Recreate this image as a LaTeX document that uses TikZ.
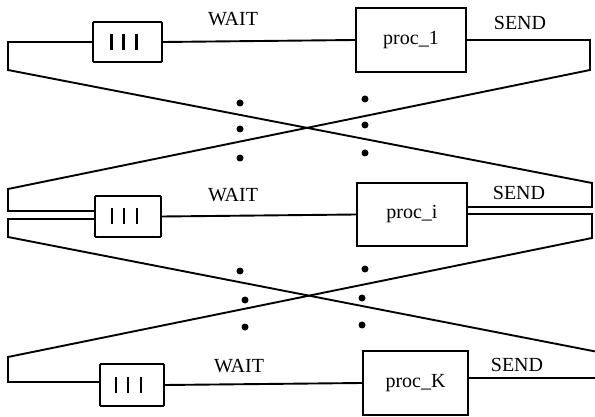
\documentclass[tikz,border=0pt]{standalone}
\usepackage{fontspec}
\setmainfont{Liberation Serif}
\begin{document}
\begin{tikzpicture}[x=1pt,y=-1pt, line width=1.9pt, line join=miter,
  qbox/.style={draw, inner sep=0pt, rounded corners=1pt},
  pbox/.style={draw, inner sep=0pt, font=\fontsize{20}{22}\selectfont},
  lbl/.style={anchor=base, inner sep=0pt, font=\fontsize{20}{22}\selectfont},
  dotmark/.style={circle, fill, inner sep=0pt, minimum size=7pt},
  bar/.style={line width=2.6pt}]
\useasboundingbox (0,0) rectangle (595,417);

% row 1
\node[qbox, minimum width=69pt, minimum height=40pt] (q1) at (127.5,42) {};
\node[pbox, minimum width=110pt, minimum height=64pt] (p1) at (411,40) {proc\_1};
\node[lbl] (w1) at (233,26) {WAIT};
\node[lbl] (s1) at (520,30) {SEND};
% row 2
\node[qbox, minimum width=66pt, minimum height=41pt] (q2) at (128,216.5) {};
\node[pbox, minimum width=110pt, minimum height=63pt] (p2) at (412,214.5) {proc\_i};
\node[lbl] (w2) at (233,202) {WAIT};
\node[lbl] (s2) at (519,200) {SEND};
% row 3
\node[qbox, minimum width=64pt, minimum height=42pt] (q3) at (132,385) {};
\node[pbox, minimum width=105pt, minimum height=64pt] (p3) at (415.5,383) {proc\_K};
\node[lbl] (w3) at (239,372) {WAIT};
\node[lbl] (s3) at (517,371) {SEND};

% queue bars
\foreach \q in {q1,q2,q3}{
  \foreach \dx in {-16,-4,9}{
    \draw[bar] ([xshift=\dx pt, yshift=-8pt]\q.center) -- ([xshift=\dx pt, yshift=8pt]\q.center);
  }
}

% corner coordinates
\coordinate (l1) at (8,70);
\coordinate (r1) at (590,70);
\coordinate (l2t) at (8,189);
\coordinate (l2b) at (8,237);
\coordinate (r2t) at (592,183);
\coordinate (r2b) at (592,238);
\coordinate (l3t) at (8,357);
\coordinate (r3t) at (598,352);
\path (q2.west) ++(0,-5.5) coordinate (q2u);
\path (q2.west) ++(0,2.5) coordinate (q2d);
\path (p2.east) ++(0,-7.5) coordinate (p2u);
\path (p2.east) ++(0,-0.5) coordinate (p2d);
\path (q3.west) ++(0,-3) coordinate (q3w);
\path (p3.east) ++(0,-5) coordinate (p3e);

% straight connectors
\draw (q1.east) -- (p1.west);
\draw (q2.east) -- (p2.west);
\draw (q3.east) -- (p3.west);

% loops
\draw (q1.west) -| (l1) -- (r2t) |- (p2u);
\draw (p1.east) -| (r1) -- (l2t) |- (q2u);
\draw (q2d) -| (l2b) -- (r3t) |- (p3e);
\draw (p2d) -| (r2b) -- (l3t) |- (q3w);

% dots
\foreach \n/\x/\y in {a/240/103, b/240/129, c/240/158, d/365/99, e/365/125, f/365/153,
                     g/240/271, h/245/300, i/245/327, j/365/269, k/362/298, m/362/325}{
  \node[dotmark] (dot\n) at (\x,\y) {};
}
\end{tikzpicture}
\end{document}
